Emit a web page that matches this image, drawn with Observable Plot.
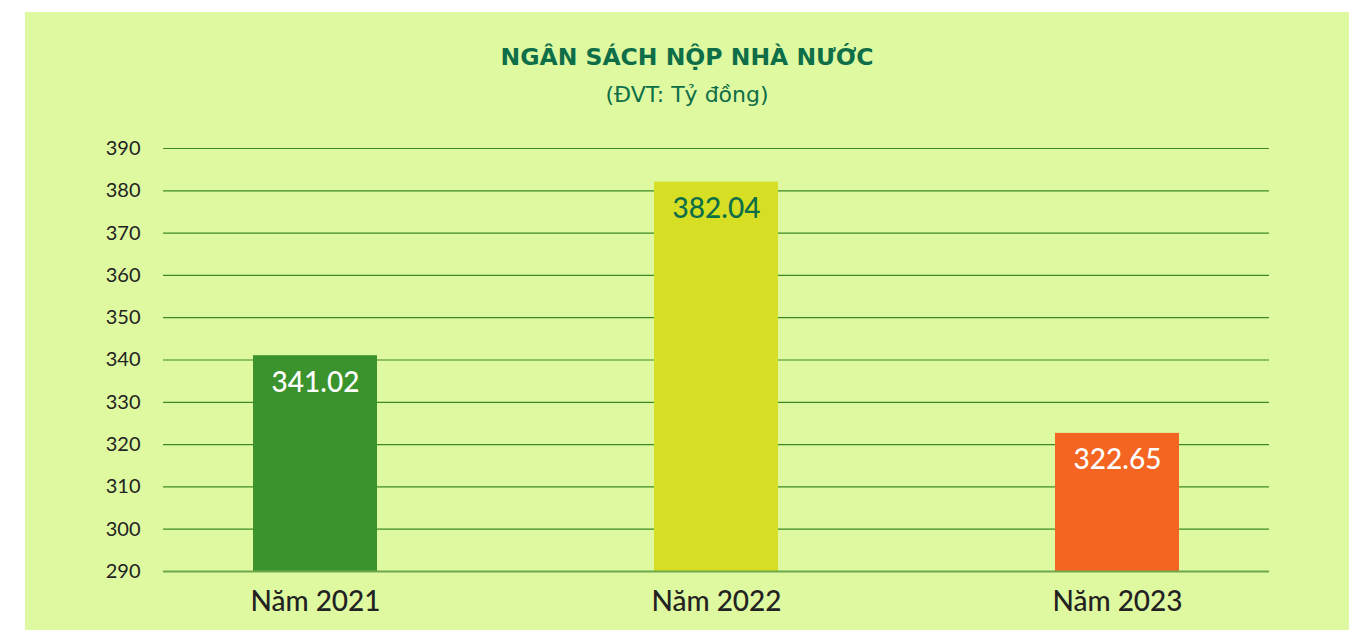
<!DOCTYPE html>
<html>
<head>
<meta charset="utf-8">
<script src="https://cdn.jsdelivr.net/npm/d3@7"></script>
<script src="https://cdn.jsdelivr.net/npm/@observablehq/plot@0.6"></script>
<style>
  html, body { margin: 0; padding: 0; background: #ffffff; }
  body { width: 1351px; height: 630px; position: relative; overflow: hidden; font-family: Lato, "Noto Sans", sans-serif; }
  #panel { position: absolute; left: 25px; top: 12px; width: 1324px; height: 618px; background: #dff9a1; }
  #title { position: absolute; left: 0; width: 100%; top: 31px; text-align: center; font-family: "DejaVu Sans", sans-serif; font-size: 23.5px; font-weight: 700; color: #0d6e48; }
  #subtitle { position: absolute; left: 0; width: 100%; top: 70px; text-align: center; font-family: "DejaVu Sans", sans-serif; font-size: 22px; color: #0d6e48; }
  #chart { position: absolute; left: 0; top: 96px; }
</style>
</head>
<body>
<div id="panel">
  <div id="title">NGÂN SÁCH NỘP NHÀ NƯỚC</div>
  <div id="subtitle">(ĐVT: Tỷ đồng)</div>
  <div id="chart"></div>
</div>
<script>
const categories = ["Năm 2021", "Năm 2022", "Năm 2023"];
const values = [341.02, 382.04, 322.65];
const barColors = ["#3a932c", "#d6df23", "#f46522"];
const labelColors = ["#ffffff", "#0d6e48", "#ffffff"];
const yTicks = [290, 300, 310, 320, 330, 340, 350, 360, 370, 380, 390];

const data = categories.map((c, i) => ({cat: c, value: values[i], fill: barColors[i], lab: labelColors[i]}));

const chart = Plot.plot({
  width: 1324,
  height: 518,
  marginLeft: 138,
  marginRight: 80,
  marginTop: 40,
  marginBottom: 55,
  style: {background: "transparent", fontFamily: "Lato, 'Noto Sans', sans-serif"},
  x: {type: "band", domain: categories, paddingInner: 0.691, paddingOuter: 0.224, label: null},
  y: {domain: [290, 390], label: null},
  marks: [
    Plot.ruleY(yTicks, {stroke: "#3c8c25", strokeWidth: 1.2}),
    Plot.barY(data, {x: "cat", y1: 290, y2: "value", fill: "fill"}),
    Plot.ruleY([290], {stroke: "#6fa84c", strokeWidth: 2}),
    Plot.text(data, {x: "cat", y: "value", text: d => d.value.toFixed(2), fill: "lab", dy: 27, fontSize: 28, fontWeight: 500}),
    Plot.axisY(yTicks, {tickSize: 0, tickPadding: 23, fontSize: 20, fill: "#222222", label: null}),
    Plot.axisX({tickSize: 0, tickPadding: 20, fontSize: 28, fontWeight: 500, fill: "#222222", label: null})
  ]
});
document.getElementById("chart").appendChild(chart);
</script>
</body>
</html>
